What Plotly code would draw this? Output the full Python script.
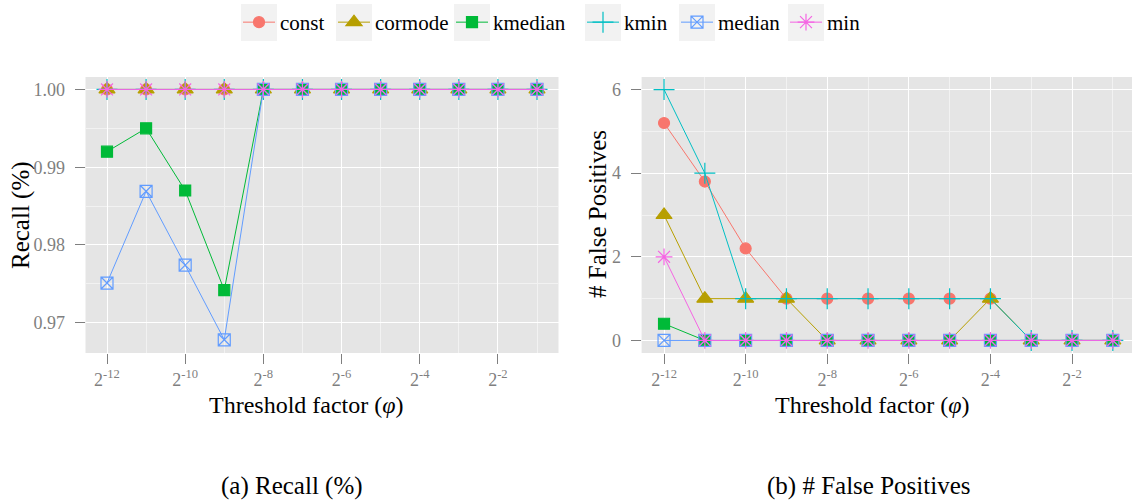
import plotly.graph_objects as go

# threshold factor exponents: phi = 2^k
exponents = [-12, -11, -10, -9, -8, -7, -6, -5, -4, -3, -2, -1]
tick_exps = [-12, -10, -8, -6, -4, -2]
tick_text = ["2<sup>-12</sup>", "2<sup>-10</sup>", "2<sup>-8</sup>",
             "2<sup>-6</sup>", "2<sup>-4</sup>", "2<sup>-2</sup>"]

methods = ["const", "cormode", "kmedian", "kmin", "median", "min"]

recall_const = [1.0] * 12
recall_cormode = [1.0] * 12
recall_kmedian = [0.992, 0.995, 0.987, 0.9742, 1.0, 1.0, 1.0, 1.0, 1.0, 1.0, 1.0, 1.0]
recall_kmin = [1.0] * 12
recall_median = [0.9751, 0.9869, 0.9774, 0.9678, 1.0, 1.0, 1.0, 1.0, 1.0, 1.0, 1.0, 1.0]
recall_min = [1.0] * 12

fp_const = [5.2, 3.8, 2.2, 1, 1, 1, 1, 1, 1, 0, 0, 0]
fp_cormode = [3, 1, 1, 1, 0, 0, 0, 0, 1, 0, 0, 0]
fp_kmedian = [0.4, 0, 0, 0, 0, 0, 0, 0, 0, 0, 0, 0]
fp_kmin = [6, 4, 1, 1, 1, 1, 1, 1, 1, 0, 0, 0]
fp_median = [0, 0, 0, 0, 0, 0, 0, 0, 0, 0, 0, 0]
fp_min = [2, 0, 0, 0, 0, 0, 0, 0, 0, 0, 0, 0]

recall = [recall_const, recall_cormode, recall_kmedian, recall_kmin, recall_median, recall_min]
false_pos = [fp_const, fp_cormode, fp_kmedian, fp_kmin, fp_median, fp_min]

colors = ["#F8766D", "#B79F00", "#00BA38", "#00BFC4", "#619CFF", "#F564E3"]
symbols = ["circle", "triangle-up", "square", "cross-thin-open", "square-x-open", "asterisk-open"]
sizes = [11, 14, 11, 15, 12, 14]

FONT = "Liberation Serif, serif"
W, H = 1132, 502

# legend key centres (px) along the top row, one legend per method
key_centres = [259, 354, 472, 603, 697, 806]
KEY_Y = 22.5
ITEMW = 32

fig = go.Figure()
for i, name in enumerate(methods):
    lg = "legend" if i == 0 else f"legend{i + 1}"
    marker = dict(symbol=symbols[i], size=sizes[i], color=colors[i],
                  line=dict(color=colors[i], width=1.2))
    fig.add_trace(go.Scatter(x=exponents, y=recall[i], name=name, mode="lines+markers",
                             line=dict(color=colors[i], width=1), marker=marker,
                             xaxis="x", yaxis="y", legend=lg, showlegend=True))
    fig.add_trace(go.Scatter(x=exponents, y=false_pos[i], name=name, mode="lines+markers",
                             line=dict(color=colors[i], width=1), marker=marker,
                             xaxis="x2", yaxis="y2", showlegend=False))

left_dom = [85.5 / W, 558.5 / W]
right_dom = [641.6 / W, 1.0]
y_dom = [1 - 353 / H, 1 - 77 / H]

axis_common = dict(showgrid=True, gridcolor="white", gridwidth=1.3, zeroline=False,
                   ticks="outside", ticklen=10, tickcolor="#7F7F7F", tickwidth=1,
                   tickfont=dict(family=FONT, size=18, color="#7F7F7F"),
                   showline=False)
xcommon = dict(axis_common, tickmode="array", tickvals=tick_exps, ticktext=tick_text,
               minor=dict(tickvals=[-11, -9, -7, -5, -3, -1], showgrid=True,
                          gridcolor="#F2F2F2", gridwidth=0.7, ticks=""))


def text_note(text, x, y, angle=0, size=25):
    return dict(text=text, x=x / W, y=1 - y / H, xref="paper", yref="paper",
                showarrow=False, textangle=angle, xanchor="center", yanchor="middle",
                font=dict(family=FONT, size=size, color="black"))


layout = dict(
    width=W, height=H,
    margin=dict(l=0, r=0, t=0, b=0),
    paper_bgcolor="white", plot_bgcolor="#E5E5E5",
    font=dict(family=FONT, color="black"),
    xaxis=dict(xcommon, domain=left_dom, range=[-12.55, -0.45], anchor="y"),
    yaxis=dict(axis_common, domain=y_dom, range=[0.9661, 1.0016], anchor="x",
               tickmode="array", tickvals=[0.97, 0.98, 0.99, 1.0],
               ticktext=["0.97", "0.98", "0.99", "1.00"], ticklabelstandoff=6,
               minor=dict(tickvals=[0.965, 0.975, 0.985, 0.995], showgrid=True,
                          gridcolor="#F2F2F2", gridwidth=0.7, ticks="")),
    xaxis2=dict(xcommon, domain=right_dom, range=[-12.55, -0.53], anchor="y2"),
    yaxis2=dict(axis_common, domain=y_dom, range=[-0.3, 6.3], anchor="x2",
                tickmode="array", tickvals=[0, 2, 4, 6], ticklabelstandoff=6,
                minor=dict(tickvals=[1, 3, 5], showgrid=True,
                           gridcolor="#F2F2F2", gridwidth=0.7, ticks="")),
    annotations=[
        text_note("Threshold factor (<i>φ</i>)", 306, 405, size=24),
        text_note("Threshold factor (<i>φ</i>)", 872, 405, size=24),
        text_note("Recall (%)", 21, 215, angle=-90),
        text_note("# False Positives", 597, 214, angle=-90),
        text_note("(a) Recall (%)", 292, 486),
        text_note("(b) # False Positives", 868, 486),
    ],
    shapes=[
        dict(type="rect", xref="paper", yref="paper", layer="below",
             x0=(c - 18) / W, x1=(c + 18) / W, y0=1 - 41 / H, y1=1 - 4 / H,
             fillcolor="#F2F2F2", line=dict(width=0))
        for c in key_centres
    ],
)
for i, c in enumerate(key_centres):
    lg = "legend" if i == 0 else f"legend{i + 1}"
    layout[lg] = dict(orientation="h", x=(c - ITEMW / 2 - 5) / W, xanchor="left",
                      y=1 - KEY_Y / H, yanchor="middle", itemwidth=ITEMW,
                      font=dict(family=FONT, size=21, color="black"),
                      bgcolor="rgba(0,0,0,0)", borderwidth=0)

fig.update_layout(**layout)
fig.write_html("out.html")
